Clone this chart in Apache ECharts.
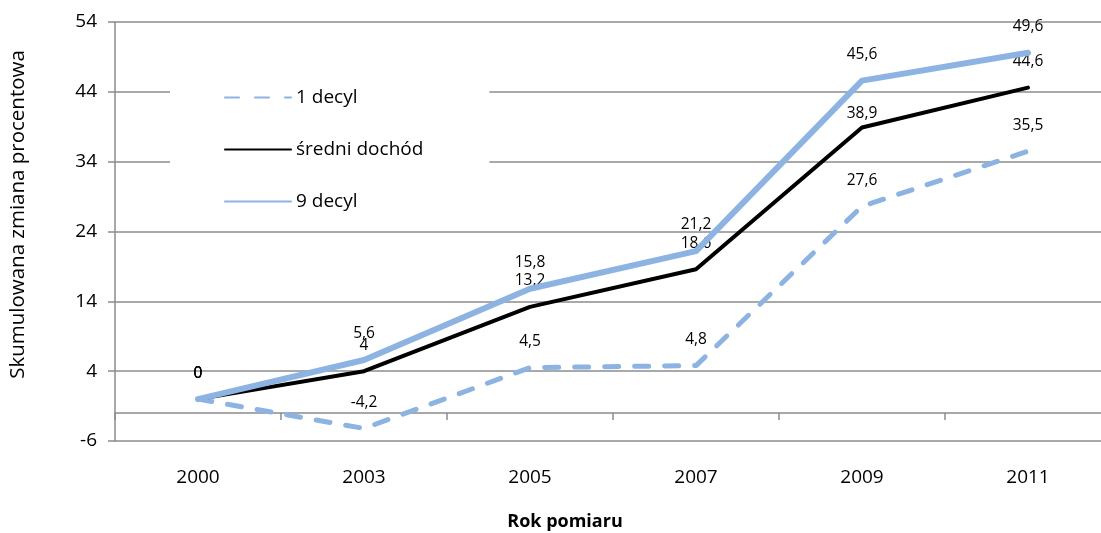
<!DOCTYPE html>
<html><head><meta charset="utf-8">
<script src="https://cdn.jsdelivr.net/npm/echarts@6/dist/echarts.min.js"></script>
<style>html,body{margin:0;padding:0;background:#fff}#c{width:1101px;height:533px}</style>
</head><body><div id="c"></div>
<script>
const categories = ['2000','2003','2005','2007','2009','2011'];
const decyl1 = [0, -4.2, 4.5, 4.8, 27.6, 35.5];
const sredni = [0, 4, 13.2, 18.6, 38.9, 44.6];
const decyl9 = [0, 5.6, 15.8, 21.2, 45.6, 49.6];
const seriesNames = ['1 decyl', 'średni dochód', '9 decyl'];
const yTicks = {min: -6, max: 54, interval: 10};

const FONT = 'Open Sans';
const BLUE = '#8DB3E2';
const GRAY = '#8c8c8c';
const fmt = p => String(p.value).replace('.', ',');
const lbl = {show: true, position: 'top', distance: 18, color: '#000', fontFamily: FONT, fontSize: 15.5, formatter: fmt};
// label nudge for the średni dochód 2009 point (Excel placed it closer to the line)
const sredniItems = sredni.map((v, i) => i === 4 ? {value: v, label: {show: true, position: 'top', distance: 6, color: '#000', fontFamily: FONT, fontSize: 15.5, formatter: fmt}} : v);

const chart = echarts.init(document.getElementById('c'));
chart.setOption({
  animation: false,
  grid: {left: 115, top: 22, bottom: 92, width: 996, containLabel: false, outerBoundsMode: 'none'},
  legend: {
    orient: 'vertical', left: 170, top: 72,
    padding: [16, 66, 12, 54], backgroundColor: '#fff',
    itemWidth: 66, itemHeight: 14, itemGap: 33,
    itemStyle: {opacity: 0},
    textStyle: {fontFamily: FONT, fontSize: 19, color: '#000'},
    data: seriesNames
  },
  xAxis: [{
    type: 'category', data: categories, boundaryGap: true,
    axisLine: {show: false}, axisTick: {show: false},
    axisLabel: {margin: 27, fontFamily: FONT, fontSize: 19, color: '#000'},
    name: 'Rok pomiaru', nameLocation: 'middle', nameGap: 72,
    nameTextStyle: {fontFamily: FONT, fontSize: 18, fontWeight: 'bold', color: '#000', padding: [0, 96, 0, 0]}
  }, {
    type: 'category', data: categories, boundaryGap: true, position: 'bottom', offset: -28,
    axisLine: {show: true, lineStyle: {color: GRAY, width: 1.5}},
    axisTick: {show: true, length: 7, lineStyle: {color: GRAY, width: 1.5}},
    axisLabel: {show: false}
  }],
  yAxis: {
    type: 'value', min: yTicks.min, max: yTicks.max, interval: yTicks.interval,
    axisLine: {show: true, lineStyle: {color: GRAY, width: 1.5}},
    axisTick: {show: true, length: 7, lineStyle: {color: GRAY, width: 1.5}},
    splitLine: {show: true, lineStyle: {color: GRAY, width: 1.5}},
    axisLabel: {margin: 18, fontFamily: FONT, fontSize: 19, color: '#000'},
    name: 'Skumulowana zmiana procentowa', nameLocation: 'middle', nameGap: 86,
    nameTextStyle: {fontFamily: FONT, fontSize: 20.5, color: '#000', padding: [0, 0, 0, 34]}
  },
  series: [
    {name: seriesNames[0], type: 'line', data: decyl1, symbol: 'circle', symbolSize: 0.01, xAxisIndex: 0,
     itemStyle: {color: BLUE},
     lineStyle: {color: BLUE, width: 5, type: [14, 16], cap: 'round', join: 'round'},
     label: lbl, z: 3},
    {name: seriesNames[1], type: 'line', data: sredniItems, symbol: 'circle', symbolSize: 0.01, xAxisIndex: 0,
     itemStyle: {color: '#000'},
     lineStyle: {color: '#000', width: 4, cap: 'round', join: 'round'},
     label: lbl, z: 4},
    {name: seriesNames[2], type: 'line', data: decyl9, symbol: 'circle', symbolSize: 0.01, xAxisIndex: 0,
     itemStyle: {color: BLUE},
     lineStyle: {color: BLUE, width: 6, cap: 'round', join: 'round'},
     label: lbl, z: 5}
  ]
});
</script></body></html>
